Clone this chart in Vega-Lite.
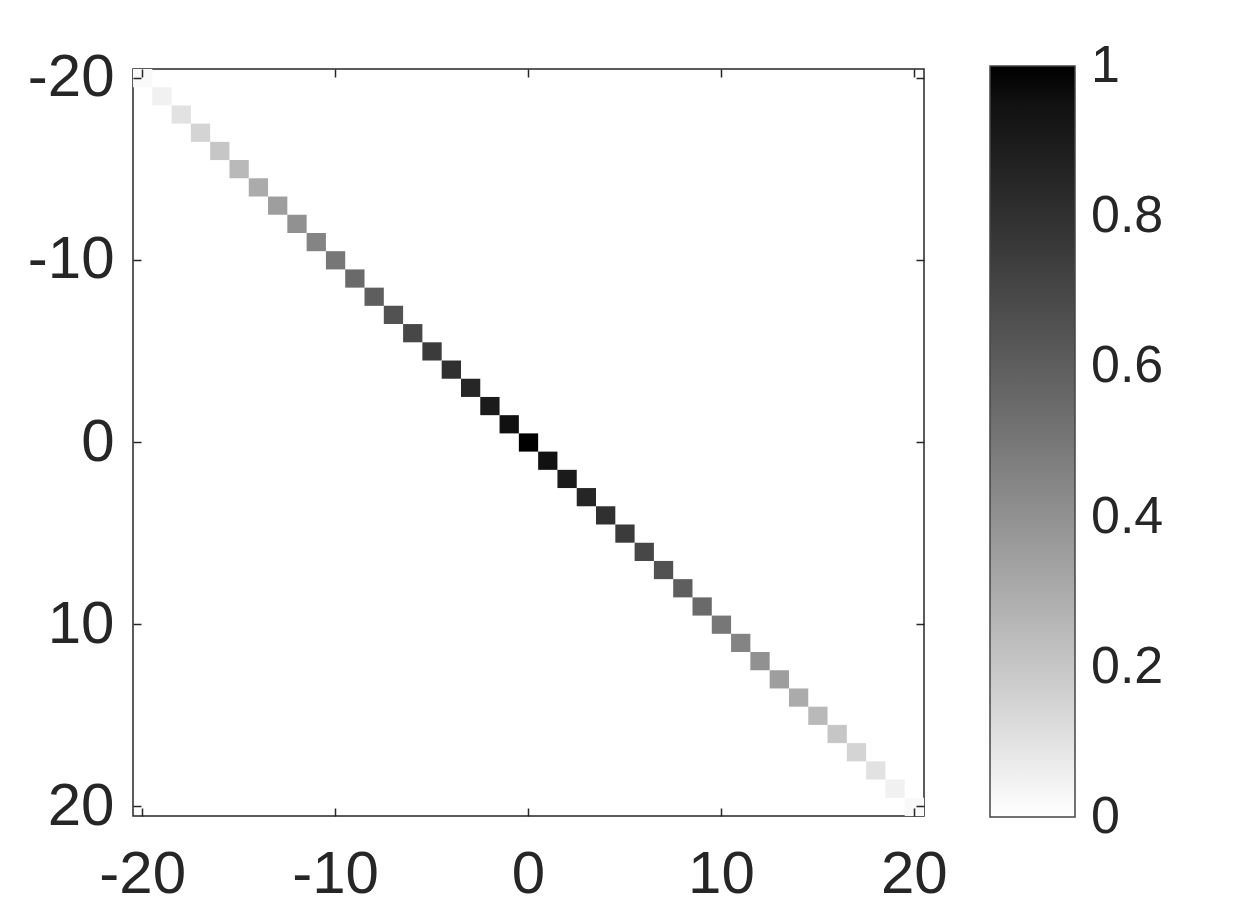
{
  "$schema": "https://vega.github.io/schema/vega-lite/v6.json",
  "autosize": "none",
  "padding": {"left": 133, "top": 69, "right": 326, "bottom": 101},
  "width": 791,
  "height": 747,
  "background": "white",
  "config": {
    "view": {"stroke": "#262626", "strokeWidth": 1.5},
    "font": "Liberation Sans",
    "axis": {"labelFont": "Liberation Sans", "labelFontSize": 60, "labelColor": "#262626", "tickColor": "#262626", "domain": false, "grid": false, "title": null}
  },
  "data": {"values": [
    {"i": -20, "v": 0.02}, {"i": -19, "v": 0.05}, {"i": -18, "v": 0.1}, {"i": -17, "v": 0.15},
    {"i": -16, "v": 0.2}, {"i": -15, "v": 0.25}, {"i": -14, "v": 0.3}, {"i": -13, "v": 0.35},
    {"i": -12, "v": 0.4}, {"i": -11, "v": 0.45}, {"i": -10, "v": 0.5}, {"i": -9, "v": 0.55},
    {"i": -8, "v": 0.6}, {"i": -7, "v": 0.65}, {"i": -6, "v": 0.7}, {"i": -5, "v": 0.75},
    {"i": -4, "v": 0.8}, {"i": -3, "v": 0.85}, {"i": -2, "v": 0.9}, {"i": -1, "v": 0.95},
    {"i": 0, "v": 1.0},
    {"i": 1, "v": 0.95}, {"i": 2, "v": 0.9}, {"i": 3, "v": 0.85}, {"i": 4, "v": 0.8},
    {"i": 5, "v": 0.75}, {"i": 6, "v": 0.7}, {"i": 7, "v": 0.65}, {"i": 8, "v": 0.6},
    {"i": 9, "v": 0.55}, {"i": 10, "v": 0.5}, {"i": 11, "v": 0.45}, {"i": 12, "v": 0.4},
    {"i": 13, "v": 0.35}, {"i": 14, "v": 0.3}, {"i": 15, "v": 0.25}, {"i": 16, "v": 0.2},
    {"i": 17, "v": 0.15}, {"i": 18, "v": 0.1}, {"i": 19, "v": 0.05}, {"i": 20, "v": 0.02}
  ]},
  "layer": [
    {
      "mark": {"type": "rect"},
      "encoding": {
        "x": {"field": "i", "type": "ordinal", "sort": "ascending",
          "scale": {"paddingInner": 0, "paddingOuter": 0},
          "axis": {"orient": "bottom", "values": [-20, -10, 0, 10, 20], "labelAngle": 0, "tickSize": -8, "tickWidth": 1.5, "labelPadding": 37,
            "labelExpr": "datum.value < 0 ? '-' + (-datum.value) : '' + datum.value"}},
        "y": {"field": "i", "type": "ordinal", "sort": "ascending",
          "scale": {"paddingInner": 0, "paddingOuter": 0},
          "axis": {"orient": "left", "values": [-20, -10, 0, 10, 20], "tickSize": -8, "tickWidth": 1.5, "labelPadding": 27,
            "labelExpr": "datum.value < 0 ? '-' + (-datum.value) : '' + datum.value"}},
        "color": {"field": "v", "type": "quantitative",
          "scale": {"domain": [0, 1], "range": ["#ffffff", "#000000"]},
          "legend": {"orient": "none", "legendX": 857, "legendY": -3, "direction": "vertical", "title": null,
            "gradientLength": 751, "gradientThickness": 85, "gradientStrokeColor": "#444444", "gradientStrokeWidth": 1.5,
            "values": [0, 0.2, 0.4, 0.6, 0.8, 1], "format": ".1~f", "labelFontSize": 52, "labelFont": "Liberation Sans",
            "labelColor": "#262626", "labelOffset": 16, "labelBaseline": "middle", "labelOverlap": false, "padding": 0,
            "encode": {"labels": {"update": {"baseline": {"value": "middle"}}}}}}
      }
    },
    {
      "mark": {"type": "rect", "opacity": 0},
      "encoding": {
        "x": {"field": "i", "type": "ordinal", "sort": "ascending",
          "axis": {"orient": "top", "values": [-20, -10, 0, 10, 20], "labels": false, "tickSize": -8, "tickWidth": 1.5}},
        "y": {"field": "i", "type": "ordinal", "sort": "ascending",
          "axis": {"orient": "right", "values": [-20, -10, 0, 10, 20], "labels": false, "tickSize": -8, "tickWidth": 1.5}}
      }
    }
  ],
  "resolve": {"axis": {"x": "independent", "y": "independent"}}
}
